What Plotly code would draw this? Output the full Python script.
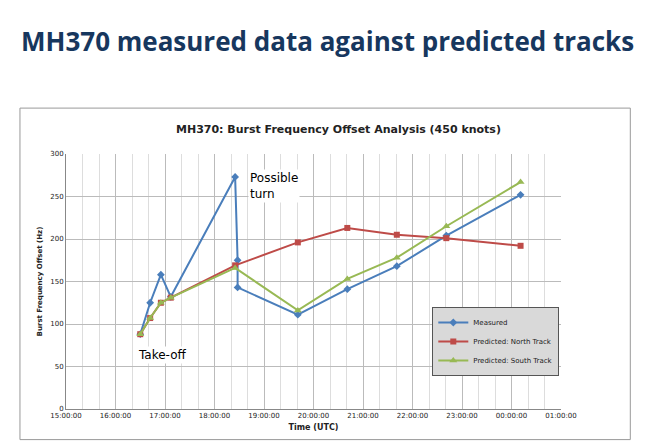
import plotly.graph_objs as go

meas_t = ["2014-03-07 16:30", "2014-03-07 16:42", "2014-03-07 16:55", "2014-03-07 17:07",
          "2014-03-07 18:25", "2014-03-07 18:28", "2014-03-07 18:28", "2014-03-07 19:41",
          "2014-03-07 20:41", "2014-03-07 21:41", "2014-03-07 22:41", "2014-03-08 00:11"]
meas_v = [88, 125, 158, 132, 273, 175, 143, 111, 141, 168, 204, 252]

pred_t = ["2014-03-07 16:30", "2014-03-07 16:42", "2014-03-07 16:55", "2014-03-07 17:07",
          "2014-03-07 18:25", "2014-03-07 19:41", "2014-03-07 20:41", "2014-03-07 21:41",
          "2014-03-07 22:41", "2014-03-08 00:11"]
north_v = [88, 107, 125, 131, 169, 196, 213, 205, 201, 192]
south_v = [88, 107, 125, 131, 166, 116, 153, 178, 215, 267]

tick_vals = ["2014-03-07 %02d:00" % h for h in range(15, 24)] + ["2014-03-08 00:00", "2014-03-08 01:00"]
tick_text = ["%02d:00:00" % (h % 24) for h in range(15, 26)]

fig = go.Figure()
fig.add_trace(go.Scatter(x=meas_t, y=meas_v, name="Measured", mode="lines+markers",
                         line=dict(color="#4a7ebb", width=2), marker=dict(symbol="diamond", size=6)))
fig.add_trace(go.Scatter(x=pred_t, y=north_v, name="Predicted: North Track", mode="lines+markers",
                         line=dict(color="#be4b48", width=2), marker=dict(symbol="square", size=6)))
fig.add_trace(go.Scatter(x=pred_t, y=south_v, name="Predicted: South Track", mode="lines+markers",
                         line=dict(color="#98b954", width=2), marker=dict(symbol="triangle-up", size=7)))

fig.update_layout(
    width=645, height=446, paper_bgcolor="white", plot_bgcolor="white",
    margin=dict(l=58, r=92, t=146, b=45),
    font=dict(family="DejaVu Sans", size=8, color="#222"),
    xaxis=dict(range=["2014-03-07 15:00", "2014-03-08 01:00"], tickvals=tick_vals, ticktext=tick_text,
               showgrid=True, gridcolor="#bbb", minor=dict(dtick=20 * 60 * 1000, showgrid=True, gridcolor="#ddd"),
               showline=True, linecolor="#888", title=dict(text="<b>Time (UTC)</b>", font=dict(size=8), standoff=4),
               tickfont=dict(size=7)),
    yaxis=dict(range=[0, 300], dtick=50, showgrid=True, gridcolor="#bbb", showline=True, linecolor="#888",
               title=dict(text="<b>Burst Frequency Offset (Hz)</b>", font=dict(size=7), standoff=6),
               tickfont=dict(size=7)),
    legend=dict(x=0.74, y=0.40, xanchor="left", yanchor="top", bgcolor="#d9d9d9",
                bordercolor="#555", borderwidth=1, font=dict(size=7), tracegroupgap=2),
    shapes=[dict(type="rect", xref="paper", yref="paper", x0=-0.093, x1=1.14, y0=-0.12, y1=1.18,
                 line=dict(color="#999", width=1))],
    annotations=[
        dict(text="<b>MH370 measured data against predicted tracks</b>", xref="paper", yref="paper",
             x=-0.095, y=1.52, xanchor="left", showarrow=False,
             font=dict(size=26, color="#17375e", family="Open Sans")),
        dict(text="<b>MH370: Burst Frequency Offset Analysis (450 knots)</b>", xref="paper", yref="paper",
             x=0.55, y=1.13, showarrow=False, font=dict(size=11, color="#222")),
        dict(text="Possible<br>turn", x="2014-03-07 18:40", y=262, xanchor="left", align="left", showarrow=False,
             bgcolor="white", font=dict(size=12, color="black")),
        dict(text="Take-off", x="2014-03-07 16:25", y=64, xanchor="left", showarrow=False,
             bgcolor="white", font=dict(size=12, color="black")),
    ],
)
fig.write_html("out.html")
